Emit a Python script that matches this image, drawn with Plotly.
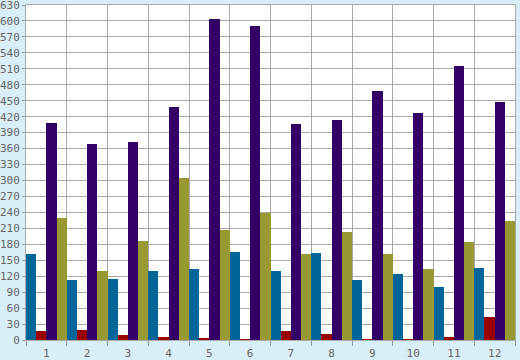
import plotly.graph_objects as go

categories = ["1", "2", "3", "4", "5", "6", "7", "8", "9", "10", "11", "12"]
blue_vals = [162, 113, 115, 130, 134, 166, 130, 164, 113, 125, 100, 136]
red_vals = [16, 18, 10, 6, 3, 1, 16, 12, 1, 1, 5, 44]
purple_vals = [408, 368, 372, 438, 603, 590, 406, 413, 468, 427, 515, 447]
olive_vals = [230, 130, 186, 305, 207, 239, 162, 203, 162, 134, 185, 224]
y_ticks = list(range(0, 631, 30))

series = [
    ("A", blue_vals, "#006699"),
    ("B", red_vals, "#990000"),
    ("C", purple_vals, "#330066"),
    ("D", olive_vals, "#999933"),
]

fig = go.Figure()
for name, vals, color in series:
    fig.add_trace(go.Bar(x=categories, y=vals, name=name,
                         marker=dict(color=color, line=dict(width=0))))

font = dict(family="DejaVu Sans Mono", size=11, color="#666666")
fig.update_layout(
    width=520, height=360,
    margin=dict(l=26, r=5, t=5, b=20, autoexpand=False),
    paper_bgcolor="#d9eff7",
    plot_bgcolor="#ffffff",
    barmode="group", bargap=0, bargroupgap=0,
    showlegend=False,
    font=font,
)
fig.update_xaxes(
    type="category", tickson="boundaries", ticks="outside", ticklen=5,
    tickcolor="#999999", showgrid=True, gridcolor="#aaaaaa", gridwidth=1,
    showline=True, linecolor="#aaaaaa", linewidth=1, mirror=True,
    tickfont=font, automargin=False, ticklabelstandoff=3,
    ticklabeloverflow="allow",
)
fig.update_yaxes(
    range=[0, 630], tickvals=y_ticks, ticks="outside", ticklen=3,
    tickcolor="#999999", showgrid=True, gridcolor="#aaaaaa", gridwidth=1,
    showline=True, linecolor="#aaaaaa", linewidth=1, mirror=True,
    zeroline=False, tickfont=font, automargin=False, ticklabelstandoff=0,
    ticklabeloverflow="allow",
)
fig.write_html(
    "out.html",
    config={"displayModeBar": False},
    post_script="document.body.style.margin='0';document.body.style.overflow='hidden';",
)
